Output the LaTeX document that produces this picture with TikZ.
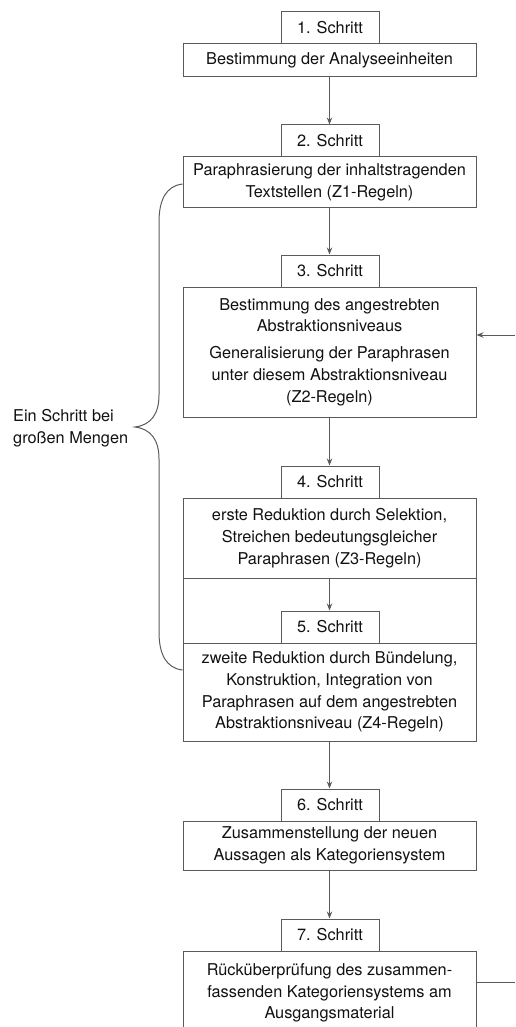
\documentclass[tikz,border=0pt]{standalone}
\usepackage{fontspec}
\setmainfont{TeX Gyre Heros}
\usetikzlibrary{arrows.meta,calc}
\definecolor{linec}{HTML}{5A5A5A}
\definecolor{txtc}{HTML}{111111}
\tikzset{
  basefont/.style={font=\fontsize{16.3}{21.7}\selectfont, text=txtc},
  mainbox/.style={basefont, draw=linec, line width=1pt, minimum width=293pt, align=center, inner sep=0pt},
  labbox/.style={basefont, draw=linec, line width=1pt, fill=white, minimum width=98pt, minimum height=32pt, inner sep=0pt},
  arr/.style={draw=linec, line width=1pt, -{Stealth[length=7pt,width=5.5pt]}},
  plain/.style={draw=linec, line width=1pt},
}
\begin{document}
\begin{tikzpicture}[x=1pt,y=-1pt]
\clip (0,0) rectangle (515,1027);
% step 1
\node[mainbox, minimum height=33pt] (b1) at (329.5,60.5) {Bestimmung der Analyseeinheiten};
\node[labbox] (l1) at (330,28) {1. Schritt};
% step 2
\node[mainbox, minimum height=50pt] (b2) at (329.5,182) {Paraphrasierung der inhaltstragenden\\Textstellen (Z1-Regeln)};
\node[labbox] (l2) at (330,141) {2. Schritt};
% step 3
\node[mainbox, minimum height=130pt] (b3) at (329.5,352) {Bestimmung des angestrebten\\Abstraktionsniveaus\\[5pt]Generalisierung der Paraphrasen\\unter diesem Abstraktionsniveau\\(Z2-Regeln)};
\node[labbox] (l3) at (330,271) {3. Schritt};
% step 4
\node[mainbox, minimum height=80pt] (b4) at (329.5,538) {erste Reduktion durch Selektion,\\Streichen bedeutungsgleicher\\Paraphrasen (Z3-Regeln)};
\node[mainbox, minimum height=65pt] (b4x) at (329.5,610.5) {};
\node[labbox] (l4) at (330,482) {4. Schritt};
% step 5
\node[mainbox, minimum height=98pt] (b5) at (329.5,692) {zweite Reduktion durch Bündelung,\\Konstruktion, Integration von\\Paraphrasen auf dem angestrebten\\Abstraktionsniveau (Z4-Regeln)};
\node[labbox] (l5) at (330,627) {5. Schritt};
% step 6
\node[mainbox, minimum height=49pt] (b6) at (329.5,845.5) {Zusammenstellung der neuen\\Aussagen als Kategoriensystem};
\node[labbox] (l6) at (330,805) {6. Schritt};
% step 7
\node[mainbox, minimum height=84pt] (b7) at (329.5,993) {Rücküberprüfung des zusammen-\\fassenden Kategoriensystems am\\Ausgangsmaterial};
\node[labbox] (l7) at (330,935) {7. Schritt};
% arrows
\draw[arr] (b1.south) -- (b1.south |- l2.north);
\draw[arr] (b2.south) -- (b2.south |- l3.north);
\draw[arr] (b3.south) -- (b3.south |- l4.north);
\draw[arr] (b4.south) -- (b4.south |- l5.north);
\draw[arr] (b5.south) -- (b5.south |- l6.north);
\draw[arr] (b6.south) -- (b6.south |- l7.north);
% feedback lines on the right
\coordinate (r3) at (515,335);
\coordinate (r7) at (515,982);
\draw[arr] (r3) -- (r3 -| b3.east);
\draw[plain] (r7 -| b7.east) -- (r7);
% brace
\coordinate (bt) at (b2.west |- 0,184);
\coordinate (bb) at (b5.west |- 0,670);
\draw[plain] (bt) .. controls (166,186) and (159,200) .. (159,222) -- (159,395)
  .. controls (159,414) and (151,425) .. (135,427)
  .. controls (151,429) and (159,440) .. (159,459) -- (159,632)
  .. controls (159,654) and (166,668) .. (bb);
\node[basefont, anchor=west, align=left, inner sep=0pt] (side) at (13,428) {Ein Schritt bei\\großen Mengen};
\end{tikzpicture}
\end{document}
